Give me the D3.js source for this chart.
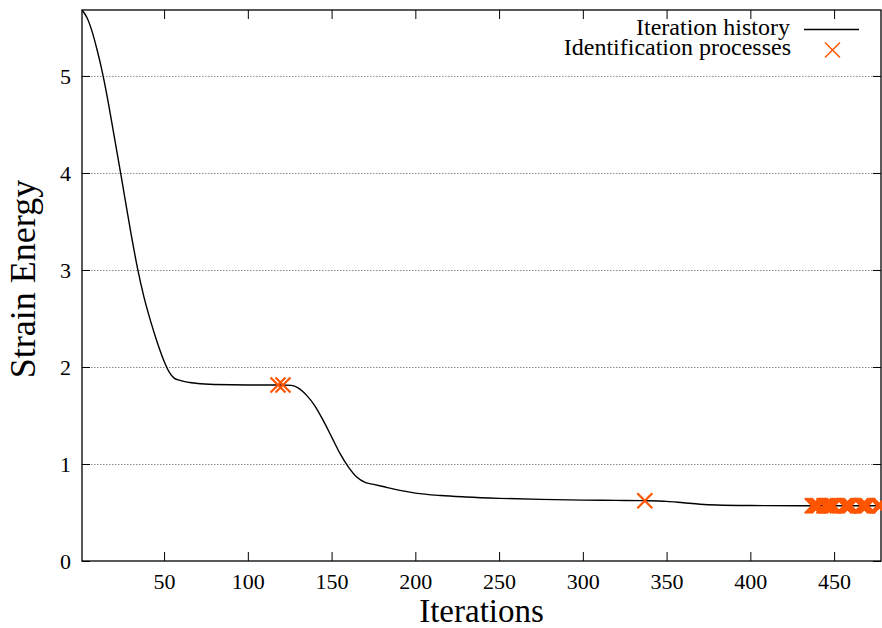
<!DOCTYPE html>
<html>
<head>
<meta charset="utf-8">
<script src="https://cdn.jsdelivr.net/npm/d3@7"></script>
<style>
  html, body { margin: 0; padding: 0; background: #fff; }
  svg text { font-family: "Liberation Serif", "Times New Roman", serif; fill: #000; }
</style>
</head>
<body>
<svg id="chart" width="882" height="628"></svg>
<script>
// Optimisation history: strain energy per iteration
const iterations = [1, 4, 7, 10, 13, 16, 20, 25, 30, 34, 38, 42, 46, 50, 53, 56, 60, 70, 80, 100,
  120, 126, 130, 135, 140, 145, 150, 155, 160, 165, 170, 175, 180, 190, 200, 215, 230, 250, 275,
  300, 320, 337, 350, 360, 370, 380, 400, 430, 478];
const energy = [5.68, 5.60, 5.46, 5.27, 5.05, 4.79, 4.40, 3.905, 3.40, 3.03, 2.72, 2.47, 2.25, 2.06, 1.95, 1.885, 1.86, 1.83, 1.82, 1.815,
  1.815, 1.81, 1.785, 1.71, 1.60, 1.45, 1.28, 1.11, 0.97, 0.865, 0.81, 0.79, 0.77, 0.73, 0.70, 0.675, 0.66, 0.646, 0.635,
  0.628, 0.625, 0.622, 0.615, 0.60, 0.585, 0.577, 0.572, 0.57, 0.57];

// Iterations at which an identification process was run
const idIterations = [118, 121, 337,
  437, 438, 439, 440, 441, 444, 445, 446, 447, 448, 449, 450,
  456, 457, 458, 459, 460, 466, 467, 468, 469, 470, 476, 477, 478];
const idEnergy = [1.815, 1.815, 0.622,
  0.57, 0.57, 0.57, 0.57, 0.57, 0.57, 0.57, 0.57, 0.57, 0.57, 0.57, 0.57,
  0.57, 0.57, 0.57, 0.57, 0.57, 0.57, 0.57, 0.57, 0.57, 0.57, 0.57, 0.57, 0.57];

const xTicks = [50, 100, 150, 200, 250, 300, 350, 400, 450];
const yTicks = [0, 1, 2, 3, 4, 5];
const gridTicks = [1, 2, 3, 4, 5];

const legendLabels = ["Iteration history", "Identification processes"];
const xTitle = "Iterations";
const yTitle = "Strain Energy";

const markerColor = "#ff5500";
const serif = "'Liberation Serif', 'Times New Roman', serif";

const svg = d3.select("#chart");
const plotLeft = 82, plotRight = 881, plotTop = 10, plotBottom = 561;

const x = d3.scaleLinear().domain([1, 478]).range([plotLeft, plotRight]);
const y = d3.scaleLinear().domain([0, 5.68]).range([plotBottom, plotTop]);

// dotted horizontal grid
svg.append("g").selectAll("line").data(gridTicks).join("line")
  .attr("x1", plotLeft).attr("x2", plotRight)
  .attr("y1", d => y(d) + 0.5).attr("y2", d => y(d) + 0.5)
  .attr("stroke", "#8a8a8a").attr("stroke-width", 1)
  .attr("stroke-dasharray", "1.5,1.5");

// axes with inward ticks on all four sides
const bottomAxis = d3.axisBottom(x).tickValues(xTicks).tickSize(-9).tickPadding(12).tickFormat(d3.format("d"));
const topAxis = d3.axisTop(x).tickValues(xTicks).tickSize(-9).tickFormat("");
const leftAxis = d3.axisLeft(y).tickValues(yTicks).tickSize(-8).tickPadding(11).tickFormat(d3.format("d"));
const rightAxis = d3.axisRight(y).tickValues(yTicks).tickSize(-8).tickFormat("");

function styleAxis(g) {
  g.attr("font-family", serif).attr("font-size", 22);
  g.select(".domain").remove();
  g.selectAll(".tick line").attr("stroke", "#000").attr("stroke-width", 1);
  g.selectAll("text").attr("font-family", serif).style("font-family", serif)
    .style("font-size", "22px").attr("fill", "#000");
}
svg.append("g").attr("transform", `translate(0,${plotBottom})`).call(bottomAxis).call(styleAxis);
svg.append("g").attr("transform", `translate(0,${plotTop})`).call(topAxis).call(styleAxis);
svg.append("g").attr("transform", `translate(${plotLeft},0)`).call(leftAxis).call(styleAxis)
  .selectAll("text").attr("dy", "0.36em");
svg.append("g").attr("transform", `translate(${plotRight},0)`).call(rightAxis).call(styleAxis);

// plot frame
svg.append("rect").attr("x", plotLeft).attr("y", plotTop)
  .attr("width", plotRight - plotLeft).attr("height", plotBottom - plotTop)
  .attr("fill", "none").attr("stroke", "#000").attr("stroke-width", 1.3);

// iteration history curve
const pts = iterations.map((d, i) => [d, energy[i]]);
const line = d3.line().x(d => x(d[0])).y(d => y(d[1])).curve(d3.curveMonotoneX);
svg.append("path").datum(pts).attr("d", line)
  .attr("fill", "none").attr("stroke", "#000").attr("stroke-width", 1.4);

// identification markers
function cross(g, cx, cy, r, w) {
  g.append("path")
    .attr("d", `M${cx - r},${cy - r}L${cx + r},${cy + r}M${cx - r},${cy + r}L${cx + r},${cy - r}`)
    .attr("stroke", markerColor).attr("stroke-width", w).attr("fill", "none");
}
const mk = svg.append("g");
idIterations.forEach((d, i) => cross(mk, x(d), y(idEnergy[i]), 7.5, 2.2));

// legend
const lg = svg.append("g").attr("font-family", serif).style("font-size", "24px");
lg.append("text").attr("x", 790).attr("y", 35).attr("text-anchor", "end").text(legendLabels[0]);
lg.append("line").attr("x1", 804).attr("x2", 859).attr("y1", 29.5).attr("y2", 29.5)
  .attr("stroke", "#000").attr("stroke-width", 1.4);
lg.append("text").attr("x", 791).attr("y", 55).attr("text-anchor", "end").text(legendLabels[1]);
cross(lg, 832.5, 50, 7.5, 1.5);

// axis titles
svg.append("text").attr("x", 481.5).attr("y", 622).attr("text-anchor", "middle")
  .attr("font-family", serif).style("font-size", "33px").text(xTitle);
svg.append("text").attr("transform", "translate(35,279) rotate(-90)").attr("text-anchor", "middle")
  .attr("font-family", serif).style("font-size", "36px").text(yTitle);
</script>
</body>
</html>
